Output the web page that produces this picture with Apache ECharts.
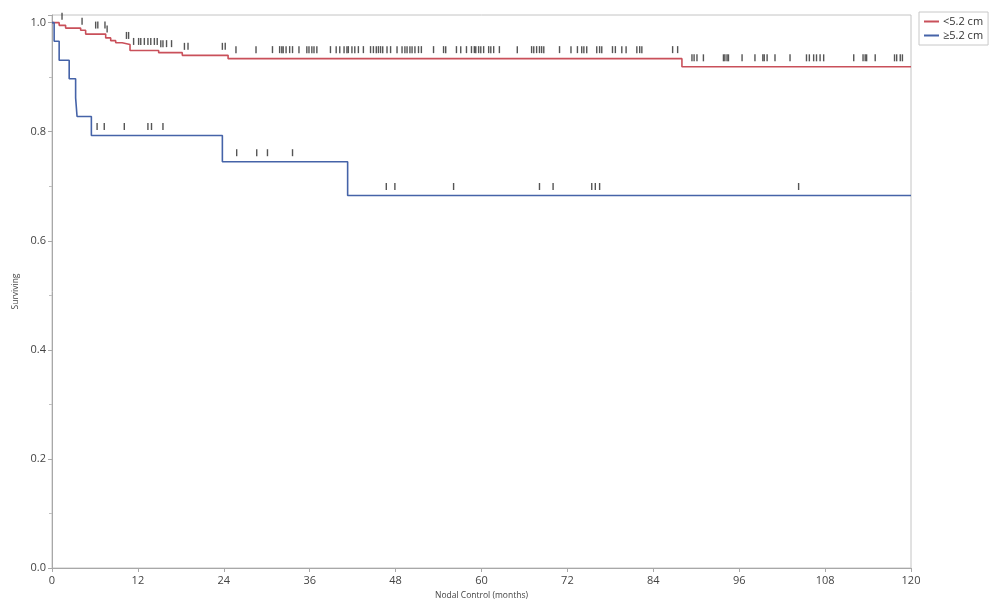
<!DOCTYPE html>
<html>
<head>
<meta charset="utf-8">
<script src="https://cdn.jsdelivr.net/npm/echarts@6/dist/echarts.min.js"></script>
<style>
html,body{margin:0;padding:0;background:#fff;}
#chart{width:992px;height:601px;}
</style>
</head>
<body>
<div id="chart"></div>
<script>
// ---- data ----
var seriesNames = ['<5.2 cm', '\u22655.2 cm'];
var xTicks = [0, 12, 24, 36, 48, 60, 72, 84, 96, 108, 120];
var yTicks = [0.0, 0.2, 0.4, 0.6, 0.8, 1.0];

// Kaplan–Meier step points: [month, survival after the event]
var smallSteps = [[0,1.0],[1.0,0.995],[1.9,0.990],[4.0,0.986],[4.7,0.979],[7.5,0.972],[8.2,0.967],[8.9,0.963],[9.8,0.960],[10.9,0.949],[14.9,0.945],[18.2,0.940],[24.6,0.934],[88.0,0.919],[120,0.919]];
var largeSteps = [[0,1.0],[0.3,0.966],[1.0,0.931],[2.4,0.897],[3.3,0.862],[3.5,0.828],[5.5,0.793],[23.8,0.745],[41.3,0.683],[120,0.683]];

// censoring times (months)
var smallCensor = [1.4,4.2,6.1,6.4,7.4,7.7,10.4,10.7,11.4,12.1,12.4,12.9,13.4,13.8,14.3,14.7,15.2,15.5,16.0,16.7,18.5,19.0,23.8,24.2,25.7,28.5,30.8,31.8,32.1,32.3,32.7,33.2,33.6,34.5,35.6,35.9,36.3,36.6,37.0,38.9,39.7,40.2,40.8,41.2,41.4,41.9,42.3,42.8,43.5,44.5,44.9,45.3,45.6,45.9,46.2,46.8,47.3,48.2,48.9,49.3,49.6,50.0,50.3,50.7,51.2,51.6,53.3,54.7,55.0,56.5,57.1,57.9,58.6,59.0,59.2,59.6,59.9,60.3,61.0,61.3,61.7,62.5,65.0,67.0,67.3,67.7,68.1,68.4,68.7,70.9,72.5,73.4,74.0,74.3,74.7,76.1,76.5,76.8,78.3,78.7,79.6,80.2,81.7,82.1,82.4,86.7,87.4,89.4,89.7,90.1,91.0,93.8,94.0,94.3,94.5,96.4,98.2,99.3,99.5,99.9,101.0,103.1,105.4,105.8,106.4,106.8,107.3,107.8,112.0,113.3,113.6,113.8,115.0,117.7,118.0,118.5,118.8];
var largeCensor = [6.3,7.3,10.1,13.4,13.9,15.5,25.8,28.6,30.1,33.6,46.7,47.9,56.1,68.1,70.0,75.4,75.9,76.5,104.3];

// ---- helpers ----
function survAt(steps, t) {
  var v = steps[0][1];
  for (var i = 0; i < steps.length; i++) { if (steps[i][0] <= t) v = steps[i][1]; }
  return v;
}
function censorPoints(steps, times) {
  return times.map(function (t) { return [t, survAt(steps, t)]; });
}

var redColor = '#c9505a';
var blueColor = '#4563a8';
var fontFam = '"Open Sans", "Noto Sans", sans-serif';

var chart = echarts.init(document.getElementById('chart'), null, {renderer: 'canvas'});
chart.setOption({
  animation: false,
  backgroundColor: '#ffffff',
  grid: {left: 52, right: 81, top: 15, bottom: 33, containLabel: false, outerBoundsMode: 'none',
         show: true, borderColor: '#c4c4c4', borderWidth: 1, backgroundColor: 'transparent'},
  legend: {
    data: seriesNames,
    orient: 'vertical',
    left: 919, top: 12,
    padding: [4, 5, 4, 5],
    itemGap: 3,
    itemWidth: 15, itemHeight: 2,
    icon: 'rect',
    borderColor: '#c8c8c8', borderWidth: 1,
    textStyle: {fontFamily: fontFam, fontSize: 11, color: '#333', padding: [0, 0, 0, -1]}
  },
  xAxis: {
    type: 'value', min: 0, max: 120, interval: 12,
    name: 'Nodal Control (months)', nameLocation: 'middle', nameGap: 21,
    nameTextStyle: {fontFamily: fontFam, fontSize: 8.5, color: '#444'},
    axisLine: {show: true, lineStyle: {color: '#a8a8a8', width: 1}},
    axisTick: {show: true, length: 4, lineStyle: {color: '#a8a8a8'}},
    axisLabel: {fontFamily: fontFam, fontSize: 11, color: '#444', margin: 7,
      formatter: function (v) { return xTicks.indexOf(v) >= 0 ? String(v) : ''; }},
    splitLine: {show: false}
  },
  yAxis: {
    type: 'value', min: 0, max: 1.014, interval: 0.2,
    name: 'Surviving', nameLocation: 'middle', nameGap: 29,
    nameTextStyle: {fontFamily: fontFam, fontSize: 8.5, color: '#444'},
    axisLine: {show: true, lineStyle: {color: '#a8a8a8', width: 1}},
    axisTick: {show: true, length: 4, lineStyle: {color: '#a8a8a8'}},
    minorTick: {show: true, splitNumber: 2, length: 3, lineStyle: {color: '#c0c0c0'}},
    axisLabel: {fontFamily: fontFam, fontSize: 11, color: '#444', margin: 6, showMaxLabel: false,
      formatter: function (v) {
        for (var i = 0; i < yTicks.length; i++) { if (Math.abs(yTicks[i] - v) < 1e-6) return yTicks[i].toFixed(1); }
        return '';
      }},
    splitLine: {show: false}
  },
  series: [
    {name: seriesNames[0], type: 'line', step: 'end', data: smallSteps, showSymbol: false, symbol: 'none',
     lineStyle: {color: redColor, width: 1.6}, itemStyle: {color: redColor}, z: 3},
    {name: seriesNames[1], type: 'line', step: 'end', data: largeSteps, showSymbol: false, symbol: 'none',
     lineStyle: {color: blueColor, width: 1.6}, itemStyle: {color: blueColor}, z: 3},
    {name: 'censorSmall', type: 'scatter', data: censorPoints(smallSteps, smallCensor),
     symbol: 'rect', symbolSize: [1.4, 7], symbolOffset: [0, -9], itemStyle: {color: '#2a2a2a'}, clip: false, z: 4},
    {name: 'censorLarge', type: 'scatter', data: censorPoints(largeSteps, largeCensor),
     symbol: 'rect', symbolSize: [1.4, 7], symbolOffset: [0, -9], itemStyle: {color: '#2a2a2a'}, clip: false, z: 4}
  ]
});
</script>
</body>
</html>
